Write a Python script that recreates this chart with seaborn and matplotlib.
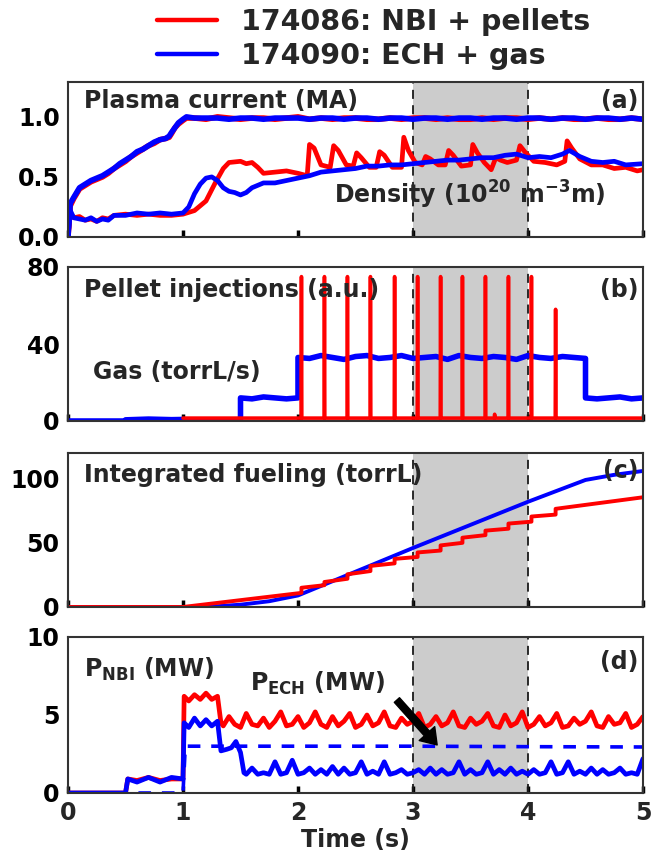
import numpy as np
import matplotlib
matplotlib.use("Agg")
import matplotlib.pyplot as plt
from matplotlib.lines import Line2D
import seaborn as sns

sns.set_theme(style="white")
plt.rcParams['font.family'] = ['DejaVu Sans']
plt.rcParams['font.weight'] = 'bold'
plt.rcParams['mathtext.default'] = 'bf'

RED = '#ff0000'
BLUE = '#0000ff'
TXT = '#262626'

# ---- (a) plasma current and line density ----
ip_t = [0, 0.02, 0.05, 0.1, 0.15, 0.2, 0.25, 0.3, 0.35, 0.4, 0.45, 0.5, 0.55, 0.6,
        0.65, 0.7, 0.75, 0.8, 0.85, 0.88, 0.9, 0.93, 0.96, 1.0, 1.03] + \
       [round(1.1 + 0.1 * i, 2) for i in range(40)]
ip_red = [0, 0.26, 0.32, 0.40, 0.43, 0.46, 0.48, 0.50, 0.53, 0.57, 0.60, 0.63, 0.67, 0.70,
          0.73, 0.76, 0.78, 0.81, 0.82, 0.83, 0.86, 0.91, 0.94, 0.97, 0.99,
          0.99, 0.98, 1.0, 0.99, 0.98, 0.99, 0.99, 0.98, 0.99, 1.0, 0.98, 0.99, 0.98, 0.99,
          0.99, 0.98, 0.98, 0.99, 0.98, 0.99, 0.99, 0.98, 0.99, 0.98, 0.98, 0.99, 0.98, 0.99,
          0.99, 0.98, 0.99, 0.98, 0.99, 0.98, 0.98, 0.99, 0.98, 0.98, 0.99, 0.98]
ip_blue = [0, 0.28, 0.33, 0.41, 0.44, 0.47, 0.49, 0.51, 0.54, 0.57, 0.61, 0.64, 0.67, 0.71,
           0.73, 0.76, 0.79, 0.81, 0.82, 0.84, 0.87, 0.91, 0.95, 0.98, 1.0,
           0.99, 0.99, 0.99, 0.98, 0.99, 0.99, 0.98, 0.99, 0.99, 0.99, 0.98, 0.99, 0.99, 0.98,
           0.99, 0.99, 0.98, 0.99, 0.99, 0.98, 0.99, 0.99, 0.98, 0.99, 0.99, 0.98, 0.99, 0.99,
           0.98, 0.99, 0.99, 0.98, 0.99, 0.99, 0.98, 0.99, 0.99, 0.98, 0.99, 0.98]

ne_red_t = [0, 0.02, 0.05, 0.1, 0.15, 0.2, 0.25, 0.3, 0.35, 0.4, 0.5, 0.6, 0.7, 0.8, 0.9, 1.0,
            1.1, 1.2, 1.28, 1.35, 1.4, 1.5, 1.55, 1.6, 1.65, 1.7, 1.8, 1.9, 2.0, 2.08,
            2.1, 2.14, 2.2, 2.28, 2.31, 2.35, 2.42, 2.48, 2.51, 2.55, 2.62, 2.68, 2.71, 2.75,
            2.82, 2.9, 2.92, 2.96, 3.02, 3.08, 3.11, 3.15, 3.22, 3.28, 3.31, 3.35, 3.42, 3.5,
            3.52, 3.56, 3.62, 3.68, 3.72, 3.76, 3.82, 3.9, 3.93, 3.98, 4.05, 4.15, 4.25, 4.32,
            4.34, 4.38, 4.45, 4.55, 4.65, 4.75, 4.85, 4.95, 5.0]
ne_red = [0, 0.2, 0.16, 0.17, 0.14, 0.15, 0.13, 0.16, 0.15, 0.18, 0.19, 0.18, 0.19, 0.18, 0.18, 0.19,
          0.22, 0.30, 0.45, 0.57, 0.62, 0.63, 0.61, 0.62, 0.58, 0.53, 0.54, 0.55, 0.53, 0.51,
          0.77, 0.74, 0.60, 0.58, 0.76, 0.72, 0.60, 0.59, 0.70, 0.66, 0.58, 0.58, 0.71, 0.68,
          0.58, 0.58, 0.83, 0.72, 0.62, 0.60, 0.67, 0.65, 0.60, 0.60, 0.72, 0.68, 0.59, 0.60,
          0.77, 0.70, 0.62, 0.56, 0.66, 0.64, 0.62, 0.64, 0.76, 0.70, 0.63, 0.62, 0.60, 0.63,
          0.80, 0.74, 0.65, 0.60, 0.60, 0.57, 0.58, 0.55, 0.56]

ne_blue_t = [0, 0.02, 0.05, 0.1, 0.15, 0.2, 0.25, 0.3, 0.35, 0.4, 0.5, 0.6, 0.7, 0.8, 0.9, 1.0,
             1.05, 1.1, 1.15, 1.2, 1.25, 1.3, 1.35, 1.4, 1.45, 1.5, 1.55, 1.6, 1.7, 1.8, 1.9,
             2.0, 2.1, 2.2, 2.3, 2.4, 2.5, 2.6, 2.7, 2.8, 2.9, 3.0, 3.1, 3.2, 3.3, 3.4, 3.5,
             3.6, 3.7, 3.8, 3.9, 4.0, 4.1, 4.2, 4.3, 4.36, 4.45, 4.55, 4.65, 4.75, 4.85, 5.0]
ne_blue = [0, 0.22, 0.16, 0.15, 0.14, 0.16, 0.13, 0.15, 0.14, 0.18, 0.18, 0.20, 0.19, 0.20, 0.19, 0.20,
           0.25, 0.36, 0.44, 0.49, 0.50, 0.47, 0.41, 0.38, 0.37, 0.35, 0.37, 0.41, 0.45, 0.45, 0.47,
           0.49, 0.51, 0.54, 0.55, 0.56, 0.57, 0.59, 0.59, 0.60, 0.60, 0.61, 0.62, 0.63, 0.64, 0.64, 0.65,
           0.66, 0.66, 0.68, 0.69, 0.66, 0.67, 0.66, 0.69, 0.72, 0.67, 0.63, 0.62, 0.63, 0.60, 0.61]

# ---- (b) gas puff and pellets ----
gas_t = [0, 0.5, 0.5, 0.7, 0.9, 1.0, 1.0, 1.5, 1.5, 1.6, 1.7, 1.8, 1.9, 2.0, 2.0] + \
        [round(2.1 + 0.1 * i, 2) for i in range(25)] + [4.5, 4.6, 4.7, 4.8, 4.9, 5.0]
gas = [0, 0, 0.6, 1.0, 0.7, 0.8, 0, 0, 12, 11.5, 12.5, 12, 11.5, 12, 33,
       32.5, 34, 33, 32, 33.5, 34, 32.5, 33, 34, 32.5, 33, 33.5, 32, 34, 33, 32.5, 33.5,
       33, 32, 34, 33, 32.5, 33.5, 33, 32.5,
       12, 11.5, 12, 12.5, 11.5, 12]
pellet_times = [2.03, 2.23, 2.43, 2.63, 2.84, 3.04, 3.24, 3.43, 3.63, 3.71, 3.83, 4.03, 4.24]
pellet_size = [75, 75, 75, 75, 75, 75, 75, 75, 75, 3.5, 75, 75, 58]
pellet_base = 1.5

# ---- (c) integrated fueling ----
fuel_blue_t = [0, 1.0, 1.25, 1.5, 1.75, 2.0, 2.5, 3.0, 3.5, 4.0, 4.5, 4.75, 5.0]
fuel_blue = [0, 0, 0.3, 1.8, 4.5, 9, 27.5, 46, 64, 82, 99, 103, 106]
fuel_red_t = [0, 1.0, 2.03, 2.03, 2.23, 2.23, 2.43, 2.43, 2.63, 2.63, 2.84, 2.84, 3.04, 3.04,
              3.24, 3.24, 3.43, 3.43, 3.63, 3.63, 3.83, 3.83, 4.03, 4.03, 4.24, 4.24, 5.0]
fuel_red = [0, 0, 11, 15, 17, 19.5, 22, 25.5, 28, 32, 34, 37.5, 39, 42.5,
            44, 48, 50, 54, 56, 59.5, 61, 65, 66.5, 70.5, 72, 76.5, 85.5]

# ---- (d) heating power ----
nbi_red_t = [0, 0.5, 0.52, 0.6, 0.7, 0.8, 0.9, 1.0, 1.01, 1.05, 1.1, 1.15, 1.2, 1.25, 1.3, 1.33] + \
            [round(1.35 + 0.05 * i, 2) for i in range(74)]
nbi_red = [0, 0, 0.9, 0.8, 1.0, 0.8, 0.9, 0.9, 6.2, 5.9, 6.3, 6.0, 6.4, 6.0, 6.2, 4.5,
           4.3, 4.9, 4.4, 4.2, 5.1, 4.4, 4.3, 4.8, 4.2, 4.6,
           5.2, 4.3, 4.4, 4.9, 4.2, 4.5, 5.2, 4.4, 4.2, 4.9,
           4.3, 4.6, 5.1, 4.2, 4.4, 5.0, 4.3, 4.5, 5.2, 4.3,
           4.2, 4.8, 4.4, 4.6, 5.1, 4.2, 4.4, 4.9, 4.3, 4.5,
           5.2, 4.3, 4.2, 4.8, 4.4, 4.6, 5.1, 4.3, 4.2, 5.0,
           4.3, 4.5, 5.2, 4.2, 4.4, 4.9, 4.3, 4.5, 5.1, 4.2,
           4.3, 4.8, 4.4, 4.6, 5.2, 4.3, 4.2, 4.9, 4.4, 4.5,
           5.1, 4.2, 4.4, 4.9]
nbi_blue_t = [0, 0.5, 0.52, 0.6, 0.7, 0.8, 0.9, 1.0, 1.01, 1.05, 1.1, 1.15, 1.2, 1.25, 1.3, 1.33,
              1.38, 1.42, 1.46, 1.5, 1.53] + [round(1.55 + 0.05 * i, 2) for i in range(70)]
nbi_blue = [0, 0, 0.9, 0.7, 1.0, 0.7, 1.0, 0.9, 4.5, 4.2, 4.8, 4.3, 4.7, 4.3, 4.6, 2.7,
            2.8, 2.9, 3.3, 2.6, 1.3,
            1.2, 1.6, 1.2, 1.3, 1.2, 2.0, 1.2, 1.3, 2.1, 1.2,
            1.3, 1.6, 1.2, 1.5, 1.2, 1.7, 1.2, 1.6, 1.2, 1.3,
            2.0, 1.2, 1.4, 1.2, 2.0, 1.2, 1.3, 1.5, 1.2, 1.3,
            1.5, 1.2, 1.6, 1.2, 1.5, 1.2, 1.3, 2.0, 1.2, 1.5,
            1.2, 1.3, 2.0, 1.2, 1.5, 1.2, 1.6, 1.2, 1.4, 1.2,
            1.5, 1.2, 1.3, 2.0, 1.2, 1.3, 2.0, 1.2, 1.4, 1.2,
            1.6, 1.2, 1.5, 1.2, 1.3, 1.6, 1.2, 1.3, 1.2, 2.2]
ech_t = [0, 0.5, 1.0, 1.02, 2.0, 3.0, 4.0, 5.0]
ech = [0, 0, 0, 3.0, 3.0, 3.0, 2.97, 2.95]


def line(ax, t, v, color, lw=3.0, **kw):
    sns.lineplot(x=t, y=v, ax=ax, color=color, lw=lw, estimator=None, sort=False, **kw)


fig = plt.figure(figsize=(6.51, 8.61), dpi=100)
boxes = [(82, 237), (267, 421), (453, 607), (637, 793)]
axes = [fig.add_axes([68 / 651, 1 - b / 861, 575 / 651, (b - t) / 861]) for t, b in boxes]
ylims = [(0, 1.29), (0, 80), (0, 120), (0, 10)]
yticks = [[0, 0.5, 1.0], [0, 40, 80], [0, 50, 100], [0, 5, 10]]
ylabels = [['0.0', '0.5', '1.0'], ['0', '40', '80'], ['0', '50', '100'], ['0', '5', '10']]

for i, ax in enumerate(axes):
    ax.axvspan(3, 4, color='#cccccc', lw=0, zorder=0)
    for x in (3, 4):
        ax.axvline(x, color='#1a1a1a', lw=1.3, ls=(0, (5, 3.5)), zorder=1)
    ax.set_xlim(0, 5)
    ax.set_ylim(*ylims[i])
    ax.set_yticks(yticks[i])
    ax.set_yticklabels(ylabels[i])
    ax.set_xticks([0, 1, 2, 3, 4, 5])
    ax.tick_params(axis='x', bottom=True, direction='in', length=5, width=2.5, color='black',
                   labelsize=17, pad=6, labelbottom=(i == 3))
    ax.tick_params(axis='y', length=0, labelsize=17, pad=6, labelcolor='black')
    for lab in ax.get_xticklabels() + ax.get_yticklabels():
        lab.set_fontweight('bold')
    for s in ax.spines.values():
        s.set_color('#333333')
        s.set_linewidth(1.5)
        s.set_zorder(5)
    ax.set_facecolor('white')

ax_a, ax_b, ax_c, ax_d = axes

line(ax_a, ip_t, ip_red, RED, lw=4.0)
line(ax_a, ne_red_t, ne_red, RED, lw=3.4)
line(ax_a, ip_t, ip_blue, BLUE, lw=4.0)
line(ax_a, ne_blue_t, ne_blue, BLUE, lw=3.4)

line(ax_b, gas_t, gas, BLUE, lw=4.0)
pel_t, pel_v = [1.0], [pellet_base]
for p, h in zip(pellet_times, pellet_size):
    pel_t += [p - 0.003, p, p + 0.003]
    pel_v += [pellet_base, h, pellet_base]
pel_t.append(5.0)
pel_v.append(pellet_base)
line(ax_b, pel_t, pel_v, RED, lw=2.6)

line(ax_c, fuel_blue_t, fuel_blue, BLUE, lw=2.8)
line(ax_c, fuel_red_t, fuel_red, RED, lw=2.8)

line(ax_d, nbi_red_t, nbi_red, RED, lw=3.4)
line(ax_d, nbi_blue_t, nbi_blue, BLUE, lw=3.4)
line(ax_d, ech_t, ech, BLUE, lw=2.6, linestyle=(0, (3.5, 3)))
ax_d.annotate('', xy=(3.21, 3.08), xytext=(2.86, 5.96),
              arrowprops=dict(facecolor='black', edgecolor='black', width=5,
                              headwidth=15, headlength=11))

tkw = dict(fontsize=17, fontweight='bold', color=TXT, va='center')
ax_a.text(0.14, 1.13, 'Plasma current (MA)', **tkw)
ax_a.text(4.96, 1.13, '(a)', ha='right', **tkw)
ax_a.text(2.31, 0.35, 'Density (10$^{20}$ m$^{-3}$m)', **tkw)
ax_b.text(0.14, 68, 'Pellet injections (a.u.)', **tkw)
ax_b.text(4.96, 68, '(b)', ha='right', **tkw)
ax_b.text(0.22, 25.5, 'Gas (torrL/s)', **tkw)
ax_c.text(0.14, 103, 'Integrated fueling (torrL)', **tkw)
ax_c.text(4.96, 106, '(c)', ha='right', **tkw)
ax_d.text(0.14, 7.9, 'P$_{NBI}$ (MW)', **tkw)
ax_d.text(1.58, 7.0, 'P$_{ECH}$ (MW)', **tkw)
ax_d.text(4.96, 8.4, '(d)', ha='right', **tkw)

ax_d.set_xlabel('Time (s)', fontsize=17, fontweight='bold', color=TXT, labelpad=2)
for ax in axes[:3]:
    ax.set_xlabel('')
for ax in axes:
    ax.set_ylabel('')

handles = [Line2D([0], [0], color=RED, lw=3.2), Line2D([0], [0], color=BLUE, lw=3.2)]
fig.legend(handles, ['174086: NBI + pellets', '174090: ECH + gas'],
           loc='upper left', bbox_to_anchor=(154 / 651, 1 - 5 / 861), frameon=False,
           prop={'size': 20.5, 'weight': 'bold'}, handlelength=2.1, handletextpad=0.85,
           labelspacing=0.2, borderpad=0.1, borderaxespad=0)
for t in fig.legends[0].get_texts():
    t.set_color(TXT)

fig.savefig('out.png', dpi=100)
